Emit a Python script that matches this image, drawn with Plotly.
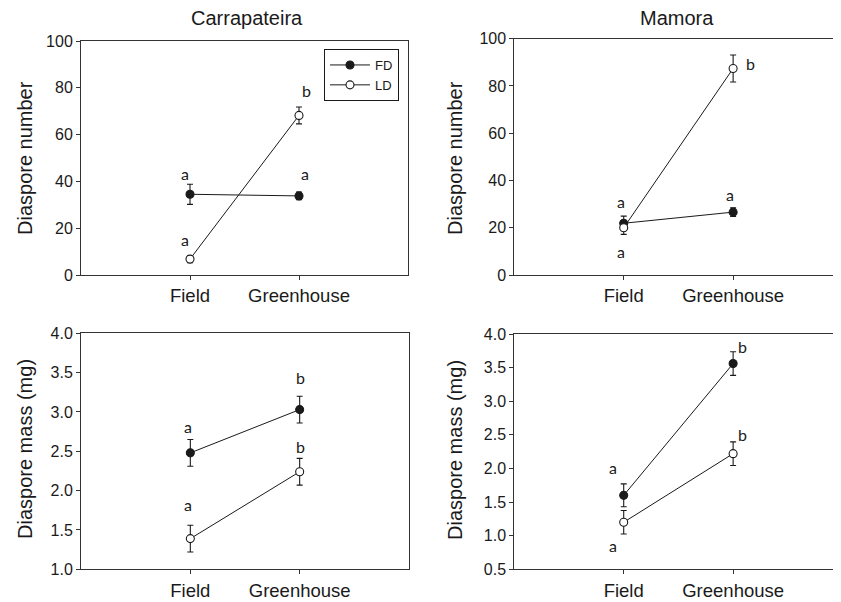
import plotly.graph_objects as go

categories = ["Field", "Greenhouse"]
groups = ["FD", "LD"]

# Carrapateira – diaspore number
carr_num_fd = [34.5, 33.8]
carr_num_fd_err = [4.3, 1.6]
carr_num_ld = [6.8, 68.2]
carr_num_ld_err = [1.5, 3.6]

# Mamora – diaspore number
mam_num_fd = [21.9, 26.6]
mam_num_fd_err = [3.0, 1.8]
mam_num_ld = [20.0, 87.4]
mam_num_ld_err = [2.8, 5.7]

# Carrapateira – diaspore mass (mg)
carr_mass_fd = [2.48, 3.03]
carr_mass_fd_err = [0.17, 0.17]
carr_mass_ld = [1.39, 2.24]
carr_mass_ld_err = [0.17, 0.17]

# Mamora – diaspore mass (mg)
mam_mass_fd = [1.60, 3.56]
mam_mass_fd_err = [0.17, 0.175]
mam_mass_ld = [1.20, 2.22]
mam_mass_ld_err = [0.175, 0.175]

# significance letters: (panel, category, y, label, xshift)
letters = [
    (1, "Field", 43.4, "a", -5), (1, "Field", 15.0, "a", -5),
    (1, "Greenhouse", 78.8, "b", 7), (1, "Greenhouse", 43.4, "a", 6),
    (2, "Field", 31.0, "a", -3), (2, "Field", 9.9, "a", -3),
    (2, "Greenhouse", 33.9, "a", -3), (2, "Greenhouse", 89.6, "b", 17),
    (3, "Field", 2.82, "a", -2), (3, "Field", 1.82, "a", -2),
    (3, "Greenhouse", 3.44, "b", 1), (3, "Greenhouse", 2.56, "b", 1),
    (4, "Field", 2.02, "a", -11), (4, "Field", 0.85, "a", -11),
    (4, "Greenhouse", 3.81, "b", 9), (4, "Greenhouse", 2.50, "b", 9),
]

# page body has an 8px default margin: the figure starts at (8, 8)
OFF = 8
W, H = 841 - OFF, 602 - OFF
INK = "#1a1a1a"
AX = "#333333"


def fx(px):
    return (px - OFF) / W


def fy(py):
    return 1 - (py - OFF) / H


panels = [
    (carr_num_fd, carr_num_fd_err, carr_num_ld, carr_num_ld_err, (81, 408), (41, 275), [0, 100], 20, "d", [-1, 2], True),
    (mam_num_fd, mam_num_fd_err, mam_num_ld, mam_num_ld_err, (514.3, 841), (38.7, 275), [0, 100], 20, "d", [-1, 1.986], False),
    (carr_mass_fd, carr_mass_fd_err, carr_mass_ld, carr_mass_ld_err, (81, 409), (333.3, 569.3), [1.0, 4.0], 0.5, ".1f", [-1, 2], True),
    (mam_mass_fd, mam_mass_fd_err, mam_mass_ld, mam_mass_ld_err, (514.3, 841), (334, 569.3), [0.5, 4.0], 0.5, ".1f", [-1, 1.986], False),
]

fig = go.Figure()
layout = {}
for i, (fd, fde, ld, lde, xd, yd, yr, dt, fmt, xr, mir) in enumerate(panels, start=1):
    sx = "" if i == 1 else str(i)
    xa, ya = "x" + sx, "y" + sx
    for name, vals, errs, fill in [("FD", fd, fde, INK), ("LD", ld, lde, "white")]:
        fig.add_trace(go.Scatter(
            x=categories, y=vals, name=name, mode="lines+markers",
            xaxis=xa, yaxis=ya, showlegend=(i == 1),
            line=dict(color=INK, width=1),
            marker=dict(size=8, color=fill, line=dict(color=INK, width=1.1)),
            error_y=dict(type="data", array=errs, visible=True, color=INK, thickness=1.1, width=3),
        ))
    layout["xaxis" + sx] = dict(
        domain=[fx(xd[0]), min(1.0, fx(xd[1]))], anchor=ya, type="category",
        categoryorder="array", categoryarray=categories, range=xr,
        showline=True, linecolor=AX, linewidth=1, mirror=True,
        ticks="outside", ticklen=4, tickcolor=AX, showgrid=False, zeroline=False,
        tickfont=dict(family="Liberation Sans, Arial", size=18.5, color=INK),
        ticklabelstandoff=0, automargin=False,
    )
    layout["yaxis" + sx] = dict(
        domain=[fy(yd[1]), fy(yd[0])], anchor=xa, range=yr, dtick=dt,
        tick0=0, tickformat=fmt,
        showline=True, linecolor=AX, linewidth=1, mirror=mir,
        ticks="outside", ticklen=4, tickcolor=AX, showgrid=False, zeroline=False,
        tickfont=dict(family="Liberation Sans, Arial", size=16, color=INK),
        automargin=False,
    )

annotations = []
for (p, cat, yv, lab, xs) in letters:
    sx = "" if p == 1 else str(p)
    annotations.append(dict(x=cat, y=yv, xref="x" + sx, yref="y" + sx, text=lab,
                            showarrow=False, xshift=xs,
                            font=dict(family="Lato, Open Sans", size=16, color=INK)))

titles = [("Carrapateira", 246.5, 18.5), ("Mamora", 676.7, 18.5)]
for t, px, py in titles:
    annotations.append(dict(x=fx(px), y=fy(py), xref="paper", yref="paper", text=t,
                            showarrow=False, xanchor="center", yanchor="middle",
                            font=dict(family="Liberation Sans, Arial", size=20, color=INK)))

ytitles = [("Diaspore number", 25, 158), ("Diaspore number", 455, 158),
           ("Diaspore mass (mg)", 25, 449), ("Diaspore mass (mg)", 455, 450)]
for t, px, py in ytitles:
    annotations.append(dict(x=fx(px), y=fy(py), xref="paper", yref="paper", text=t,
                            showarrow=False, textangle=-90, xanchor="center", yanchor="middle",
                            font=dict(family="Liberation Sans, Arial", size=20, color=INK)))

fig.update_layout(
    **layout,
    width=W, height=H, autosize=False,
    margin=dict(l=0, r=0, t=0, b=0, pad=0),
    paper_bgcolor="white", plot_bgcolor="white",
    annotations=annotations,
    showlegend=True,
    legend=dict(x=fx(399), y=fy(49), xanchor="right", yanchor="top",
                bordercolor=INK, borderwidth=1, bgcolor="white",
                font=dict(family="Liberation Sans, Arial", size=13, color=INK),
                tracegroupgap=0, itemwidth=40),
)

fig.write_html("out.html")
